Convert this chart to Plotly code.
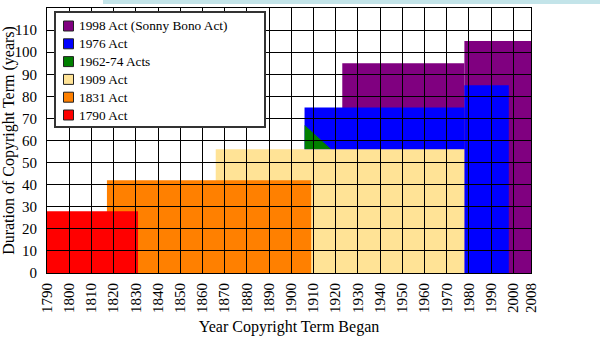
import plotly.graph_objects as go

# ---- data ----
acts = ["1998 Act (Sonny Bono Act)", "1976 Act", "1962-74 Acts", "1909 Act", "1831 Act", "1790 Act"]
act_colors = ["#800080", "#0000FF", "#008000", "#FFE396", "#FF8000", "#FF0000"]

# rectangular segments: act index, first year, last year, term (years)
seg_act = [0, 0, 1, 1, 3, 4, 5]
seg_start = [1923, 1978, 1906, 1978, 1866, 1817, 1790]
seg_end = [1978, 2008, 1978, 1998, 1978, 1909, 1831]
seg_term = [95, 105, 75, 85, 56, 42, 28]

# 1962-74 extensions (triangular region)
ext_years = [1906, 1906, 1918]
ext_terms = [56, 67, 56]

x_ticks = [1790, 1800, 1810, 1820, 1830, 1840, 1850, 1860, 1870, 1880, 1890,
           1900, 1910, 1920, 1930, 1940, 1950, 1960, 1970, 1980, 1990, 2000, 2008]
y_ticks = [0, 10, 20, 30, 40, 50, 60, 70, 80, 90, 100, 110]

FONT = "Liberation Serif, Times New Roman, serif"

# plot-area geometry (pixels inside the figure)
L, T, PW, PH = 47, 8, 484, 265


def px(xp):  # figure pixel x -> paper
    return (xp - L) / PW


def py(yp):  # figure pixel y -> paper
    return (T + PH - yp) / PH


fig = go.Figure()

shapes = []
annotations = []
for a in range(len(acts)):
    if a == 2:
        path = "M {} {} ".format(ext_years[0], ext_terms[0]) + " ".join(
            "L {} {}".format(x, y) for x, y in zip(ext_years[1:], ext_terms[1:])) + " Z"
        shapes.append(dict(type="path", path=path, xref="x", yref="y",
                           fillcolor=act_colors[a], line=dict(width=0), layer="below"))
        continue
    for i, s in enumerate(seg_act):
        if s == a:
            shapes.append(dict(type="rect", xref="x", yref="y",
                               x0=seg_start[i], x1=seg_end[i], y0=0, y1=seg_term[i],
                               fillcolor=act_colors[a], line=dict(width=0), layer="below"))

# legend box (drawn by hand to match the compact original)
bx0, by0, bx1, by1 = 55, 12, 265, 127
shapes.append(dict(type="rect", xref="paper", yref="paper",
                   x0=px(bx0), x1=px(bx1), y0=py(by1), y1=py(by0),
                   fillcolor="white", line=dict(color="#333", width=2), layer="above"))
row0, row_gap = 26, 17.8
for k, (name, col) in enumerate(zip(acts, act_colors)):
    cy = row0 + k * row_gap
    shapes.append(dict(type="rect", xref="paper", yref="paper",
                       x0=px(63.5), x1=px(73.5), y0=py(cy + 5), y1=py(cy - 5),
                       fillcolor=col, line=dict(color="#222", width=1), layer="above"))
    annotations.append(dict(xref="paper", yref="paper", x=px(77), y=py(cy),
                            xanchor="left", yanchor="middle", text=name, showarrow=False,
                            font=dict(family=FONT, size=13.3, color="black")))

# light browser bar at the very top of the screenshot
shapes.append(dict(type="rect", xref="paper", yref="paper",
                   x0=px(103), x1=px(600), y0=py(4), y1=py(0),
                   fillcolor="#C3E4E9", line=dict(width=0), layer="above"))

fig.update_layout(
    width=600, height=363,
    margin=dict(l=L, r=600 - L - PW, t=T, b=363 - T - PH, autoexpand=False),
    paper_bgcolor="white", plot_bgcolor="white",
    font=dict(family=FONT, size=15, color="black"),
    shapes=shapes,
    annotations=annotations,
    showlegend=False,
    xaxis=dict(range=[1790, 2008], tickvals=x_ticks, ticktext=[str(t) for t in x_ticks],
               tickangle=-90, showgrid=True, gridcolor="black", gridwidth=1,
               showline=True, linecolor="black", linewidth=1, mirror=True,
               zeroline=False, ticks="", ticklen=0, ticklabelstandoff=3, automargin=False,
               title=dict(text="Year Copyright Term Began", font=dict(family=FONT, size=16), standoff=8),
               tickfont=dict(family=FONT, size=15)),
    yaxis=dict(range=[0, 120], tickvals=y_ticks, showgrid=True, gridcolor="black", gridwidth=1,
               showline=True, linecolor="black", linewidth=1, mirror=True,
               zeroline=False, ticks="", ticklen=0, ticklabelstandoff=6, automargin=False,
               title=dict(text="Duration of Copyright Term (years)", font=dict(family=FONT, size=16), standoff=2),
               tickfont=dict(family=FONT, size=15)),
)

fig.write_html("out.html", config={"displayModeBar": False},
               post_script="document.body.style.margin='0px';")
